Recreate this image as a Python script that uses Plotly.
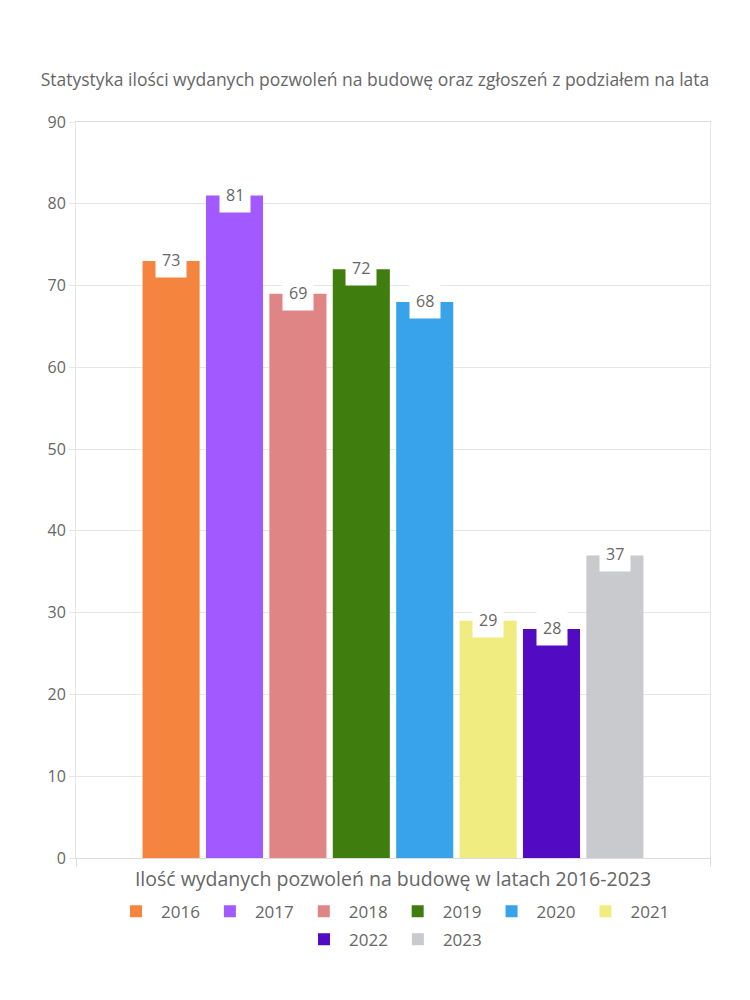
import plotly.graph_objects as go

category = "Ilość wydanych pozwoleń na budowę w latach 2016-2023"
years = ["2016", "2017", "2018", "2019", "2020", "2021", "2022", "2023"]
values = [73, 81, 69, 72, 68, 29, 28, 37]
colors = ["#F5843F", "#A259FF", "#E08585", "#3F7D0E", "#38A3EB", "#F0EC80", "#520AC2", "#C9CACE"]
title_text = "Statystyka ilości wydanych pozwoleń na budowę oraz zgłoszeń z podziałem na lata"

FONT = "'Open Sans', 'Noto Sans', sans-serif"
TXT = "#666666"
bargap = 0.2
bargroupgap = 0.1
first_row = 6

fig = go.Figure()
for i, (y, v, c) in enumerate(zip(years, values, colors)):
    fig.add_trace(go.Bar(x=[category], y=[v], name=y, marker=dict(color=c, line=dict(width=0)),
                         hoverinfo="skip",
                         legend="legend" if i < first_row else "legend2"))

# label annotations placed at the centre of each bar in the group
n = len(years)
gw = 1 - bargap
for i, v in enumerate(values):
    xc = -gw / 2 + (i + 0.5) * gw / n
    fig.add_annotation(x=xc, y=v, xref="x", yref="y", text=str(v), showarrow=False,
                       bgcolor="white", borderpad=6, yanchor="middle", yshift=1,
                       font=dict(family=FONT, size=16, color=TXT))

legend_common = dict(orientation="h", x=0.5, xanchor="center", yanchor="middle",
                     font=dict(family=FONT, size=17, color=TXT), itemwidth=40,
                     traceorder="normal", bgcolor="rgba(0,0,0,0)")

fig.update_layout(
    width=750, height=1000,
    margin=dict(l=76, r=40, t=122, b=142),
    paper_bgcolor="white", plot_bgcolor="white",
    barmode="group", bargap=bargap, bargroupgap=bargroupgap,
    font=dict(family=FONT, color=TXT),
    title=dict(text=title_text, x=0.5, xanchor="center", y=0.92, yanchor="middle",
               font=dict(family=FONT, size=17.5, color=TXT)),
    showlegend=True,
    legend=dict(y=-0.073, **legend_common),
    legend2=dict(y=-0.111, **legend_common),
)
fig.update_xaxes(range=[-0.5, 0.5], showline=True, linecolor="#dcdcdc", mirror=True,
                 ticks="outside", ticklen=8, tickcolor="#dcdcdc", showgrid=False,
                 tickson="boundaries", ticklabelstandoff=4,
                 tickfont=dict(family=FONT, size=19.5, color=TXT))
fig.update_yaxes(range=[0, 90], dtick=10, showline=True, linecolor="#e6e6e6", mirror=True,
                 gridcolor="#e6e6e6", ticks="outside", ticklen=6, tickcolor="#e6e6e6",
                 tickfont=dict(family=FONT, size=16, color=TXT), zeroline=False)

fig.write_html("out.html")
